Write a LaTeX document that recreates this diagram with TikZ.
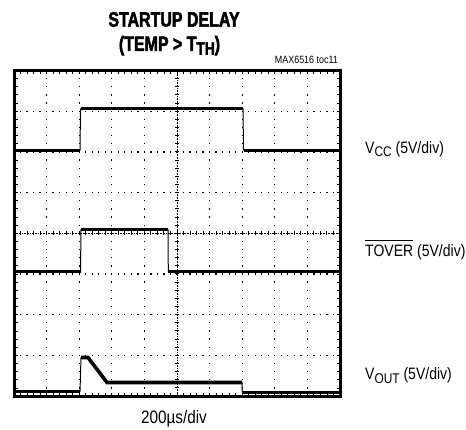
\documentclass[tikz,border=0pt]{standalone}
\usepackage{fontspec}
\setmainfont{Liberation Sans}[FakeStretch=0.85]
\newfontfamily\titlefont{Liberation Sans Bold}[FakeStretch=0.76,FakeBold=2.2]
\newcommand\lowsub[1]{\raisebox{-0.2em}{\fontsize{14}{14}\selectfont #1}}
\newcommand\titlesub[1]{\raisebox{-0.18em}{\fontsize{18}{18}\selectfont #1}}
\begin{document}
\begin{tikzpicture}[x=1pt,y=-1pt,
  lbl/.style={inner sep=0pt, font=\fontsize{16.5}{18}\selectfont},
  ttl/.style={inner sep=0pt, anchor=base, font=\titlefont\fontsize{21}{24}\selectfont},
  trace/.style={line width=3.6pt, line cap=butt, line join=miter},
  edge/.style={line width=1pt},
  gdot/.style={fill=black},
  frame/.style={line width=3pt}]
\useasboundingbox (0,0) rectangle (466,430);
\def\XA{14}\def\XB{340}\def\YA{70.5}\def\YB{396.1}\def\DX{32.6}\def\DY{40.7}
\def\XC{177}\def\YC{233.3}
% dotted grid lines
\foreach \k in {1,2,3,4,6,7,8,9} {
  \foreach \j in {1,...,39} {
    \fill[gdot] ({\XA+\k*\DX-0.65},{\YA+\j*\DY/5-0.65}) rectangle ++(1.3,1.3);
  }
}
\foreach \k in {1,2,3,5,6,7} {
  \foreach \j in {1,...,49} {
    \fill[gdot] ({\XA+\j*\DX/5-0.65},{\YA+\k*\DY-0.65}) rectangle ++(1.3,1.3);
  }
}
% center axes
\draw[line width=0.5pt, dash pattern=on 0.7pt off 0.9pt] (\XC,\YA) -- (\XC,\YB);
\draw[line width=0.5pt, dash pattern=on 0.7pt off 0.9pt] (\XA,\YC) -- (\XB,\YC);
\foreach \j in {1,...,39} {
  \draw[line width=1pt] ({\XC-2.2},{\YA+\j*\DY/5}) -- ({\XC+2.2},{\YA+\j*\DY/5});
}
\foreach \j in {1,...,49} {
  \draw[line width=1pt] ({\XA+\j*\DX/5},{\YC-2.2}) -- ({\XA+\j*\DX/5},{\YC+2.2});
}
% frame ticks
\foreach \j in {1,...,49} {
  \draw[line width=0.9pt] ({\XA+\j*\DX/5},{\YA+1}) -- ({\XA+\j*\DX/5},{\YA+3.5});
  \draw[line width=0.9pt] ({\XA+\j*\DX/5},{\YB-1}) -- ({\XA+\j*\DX/5},{\YB-3.5});
}
\foreach \j in {1,...,39} {
  \draw[line width=0.9pt] ({\XA+1},{\YA+\j*\DY/5}) -- ({\XA+3.5},{\YA+\j*\DY/5});
  \draw[line width=0.9pt] ({\XB-1},{\YA+\j*\DY/5}) -- ({\XB-3.5},{\YA+\j*\DY/5});
}
% frame
\draw[frame] (\XA,\YA) rectangle (\XB,\YB);
% VCC trace
\draw[trace] (\XA,150.5) -- (80,150.5);
\draw[edge] (80,150.5) -- (80.5,108.5);
\draw[trace] (80.5,108.5) -- (243,108.5);
\draw[edge] (243,108.5) -- (243.5,150.5);
\draw[trace] (243.5,150.5) -- (\XB,150.5);
% TOVER trace
\draw[trace] (\XA,271.5) -- (80.5,271.5);
\draw[edge] (80.5,271.5) -- (81,229.5);
\draw[trace] (81,229.5) -- (168,229.5);
\draw[edge] (168,229.5) -- (168.3,271.5);
\draw[trace] (168.3,271.5) -- (\XB,271.5);
% VOUT trace
\draw[trace] (\XA,391.5) -- (80,391.5);
\draw[edge] (80,391.5) -- (81,357.5);
\draw[trace] (81,357.5) -- (88,357.5) -- (107,382.5) -- (242,382.5);
\draw[edge] (242,382.5) -- (242.3,392.5);
\draw[trace] (242.3,392.5) -- (\XB,392.5);
% labels
\node[lbl, anchor=base west] (vcc) at (365,153.3) {V\lowsub{CC} (5V/div)};
\node[lbl, anchor=base west] (tover) at (365,257) {$\overline{\mbox{\rule{0pt}{15pt}TOVER}}$ (5V/div)};
\node[lbl, anchor=base west] (vout) at (365,380) {V\lowsub{OUT} (5V/div)};
\node[inner sep=0pt, anchor=base, font=\fontsize{18}{20}\selectfont] (tb) at (174,423) {200µs/div};
\node[ttl] (t1) at (174,26.7) {STARTUP DELAY};
\node[ttl] (t2) at (169.5,51) {(TEMP > T\titlesub{TH})};
\node[inner sep=0pt, anchor=base east, font=\fontsize{10.5}{12}\selectfont] (id) at (338,64) {MAX6516 toc11};
\end{tikzpicture}
\end{document}
